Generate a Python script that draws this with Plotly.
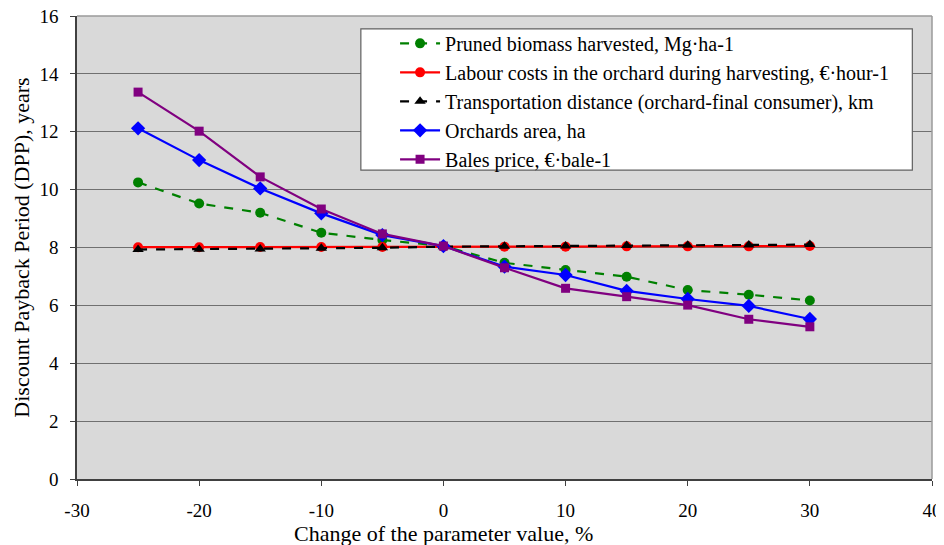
import plotly.graph_objects as go

change_pct = [-25, -20, -15, -10, -5, 0, 5, 10, 15, 20, 25, 30]

pruned_biomass = [10.25, 9.52, 9.20, 8.51, 8.26, 8.05, 7.47, 7.22, 6.99, 6.53, 6.37, 6.17]
labour_costs = [8.01, 8.01, 8.02, 8.02, 8.02, 8.03, 8.03, 8.03, 8.04, 8.04, 8.04, 8.05]
transport_dist = [7.93, 7.94, 7.95, 7.97, 7.99, 8.03, 8.04, 8.05, 8.07, 8.08, 8.09, 8.10]
orchards_area = [12.12, 11.02, 10.04, 9.18, 8.43, 8.05, 7.34, 7.05, 6.50, 6.22, 5.98, 5.53]
bales_price = [13.37, 12.02, 10.44, 9.33, 8.47, 8.05, 7.30, 6.59, 6.30, 6.01, 5.52, 5.26]

names = [
    "Pruned biomass harvested, Mg·ha-1",
    "Labour costs in the orchard during harvesting, €·hour-1",
    "Transportation distance (orchard-final consumer), km",
    "Orchards area, ha",
    "Bales price, €·bale-1",
]

x_ticks = [-30, -20, -10, 0, 10, 20, 30, 40]
x_tick_labels = ["-30", "-20", "-10", "0", "10", "20", "30", "40"]
y_ticks = [0, 2, 4, 6, 8, 10, 12, 14, 16]

FONT = "Liberation Serif"

series = [
    (pruned_biomass, "#008000", "dash", "circle", 10),
    (labour_costs, "#ff0000", "solid", "circle", 10),
    (transport_dist, "#000000", "dash", "triangle-up", 10),
    (orchards_area, "#0000ff", "solid", "diamond", 11),
    (bales_price, "#800080", "solid", "square", 9),
]

fig = go.Figure()
for i, (vals, col, dash, sym, sz) in enumerate(series):
    fig.add_trace(go.Scatter(
        x=change_pct, y=vals, name=names[i], mode="lines+markers",
        line=dict(color=col, width=2.2, dash=dash),
        marker=dict(symbol=sym, size=sz, color=col),
        legendgroup=f"g{i}",
    ))

fig.update_layout(
    width=936, height=537,
    margin=dict(l=69, r=12, t=8, b=66, autoexpand=False),
    paper_bgcolor="white",
    plot_bgcolor="#d9d9d9",
    font=dict(family=FONT, size=19, color="black"),
    showlegend=True,
    legend=dict(
        x=0.372, y=0.983, xanchor="left", yanchor="top",
        bgcolor="rgba(0,0,0,0)", borderwidth=0,
        font=dict(family=FONT, size=20, color="black"),
        itemwidth=40, tracegroupgap=0,
    ),
    xaxis=dict(
        range=[-30, 40], tickvals=x_ticks, ticktext=x_tick_labels,
        showgrid=False, zeroline=False, automargin=False,
        showline=True, linecolor="#404040", linewidth=1.5,
        ticks="outside", ticklen=5, tickcolor="#404040",
        ticklabelstandoff=8, ticklabeloverflow="allow",
        tickfont=dict(family=FONT, size=19),
    ),
    yaxis=dict(
        range=[0, 16], tickvals=y_ticks, showgrid=True, gridcolor="#707070",
        gridwidth=1, zeroline=False, automargin=False,
        showline=True, linecolor="#404040", linewidth=1.5,
        ticks="outside", ticklen=5, tickcolor="#404040",
        ticklabelstandoff=8, ticklabeloverflow="allow",
        tickfont=dict(family=FONT, size=19),
        title=dict(text="Discount Payback Period (DPP), years",
                   font=dict(family=FONT, size=22), standoff=4),
    ),
    shapes=[
        dict(type="line", xref="paper", yref="paper", x0=0, x1=1, y0=1, y1=1,
             line=dict(color="#9a9a9a", width=1.5)),
        dict(type="line", xref="paper", yref="paper", x0=1, x1=1, y0=0, y1=1,
             line=dict(color="#9a9a9a", width=1.5)),
        dict(type="rect", xref="paper", yref="paper",
             x0=0.332, x1=0.977, y0=0.667, y1=0.972,
             fillcolor="white", line=dict(color="#606060", width=1.2), layer="above"),
    ],
    annotations=[
        dict(text="Change of the parameter value, %", xref="x", yref="paper",
             x=0, y=-0.117, xanchor="center", yanchor="middle", showarrow=False,
             font=dict(family=FONT, size=22)),
    ],
)

fig.write_html("out.html")
